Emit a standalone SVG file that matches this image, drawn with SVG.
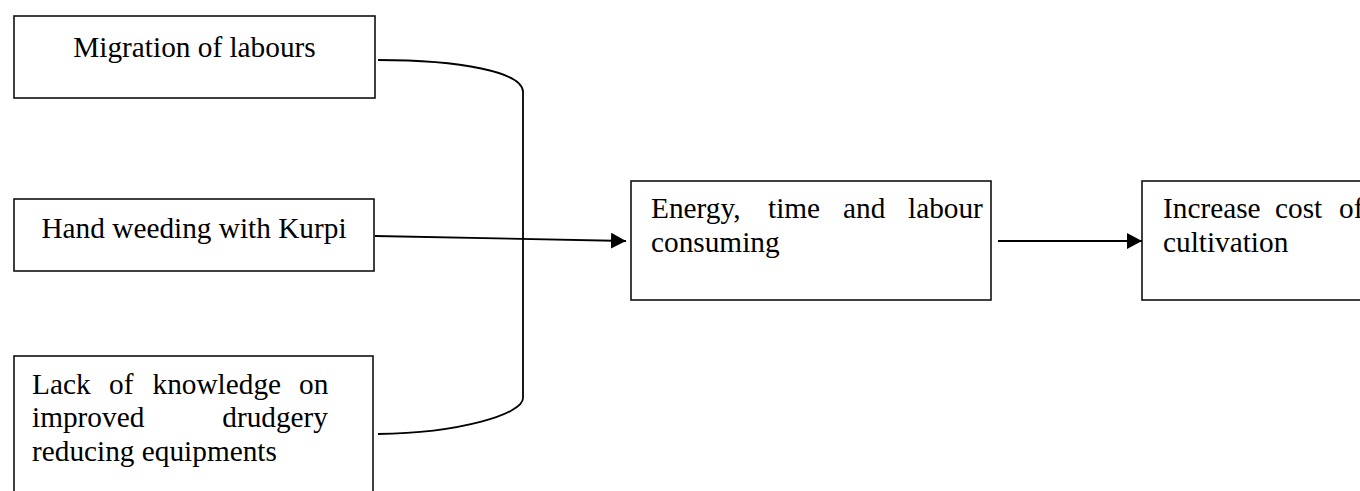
<svg xmlns="http://www.w3.org/2000/svg" width="1360" height="491" viewBox="0 0 1360 491">
  <style>
    .box { fill: #ffffff; stroke: #111111; stroke-width: 1.6; }
    .t { font-family: "Liberation Serif", "Times New Roman", serif; font-size: 29.3px; fill: #000000; }
    .c { text-anchor: middle; }
    .e { text-anchor: end; }
    .line { fill: none; stroke: #000000; stroke-width: 1.8; }
  </style>
  <defs>
    <marker id="arrow" markerUnits="userSpaceOnUse" markerWidth="16" markerHeight="16" refX="15" refY="8" orient="auto">
      <path d="M0,0 L15,8 L0,16 Z" fill="#000000"/>
    </marker>
  </defs>
  <rect width="1360" height="491" fill="#ffffff"/>

  <g id="node-migration">
    <rect class="box" x="14" y="16" width="361" height="82"/>
    <text class="t c" x="194.5" y="57">Migration of labours</text>
  </g>

  <g id="node-hand-weeding">
    <rect class="box" x="14" y="199" width="360" height="72"/>
    <text class="t c" x="194" y="238">Hand weeding with Kurpi</text>
  </g>

  <g id="node-lack-knowledge">
    <rect class="box" x="14" y="356" width="359" height="160"/>
    <text class="t" y="393.5"><tspan x="32">Lack</tspan><tspan x="109">of</tspan><tspan x="152.5">knowledge</tspan><tspan x="299">on</tspan></text>
    <text class="t" x="32" y="427">improved</text>
    <text class="t e" x="328" y="427">drudgery</text>
    <text class="t" x="32" y="460.5">reducing equipments</text>
  </g>

  <g id="node-energy">
    <rect class="box" x="631" y="181" width="360" height="119"/>
    <text class="t" y="218"><tspan x="651">Energy,</tspan><tspan x="768">time</tspan><tspan x="843">and</tspan><tspan x="908">labour</tspan></text>
    <text class="t" x="651" y="251.5">consuming</text>
  </g>

  <g id="node-increase-cost">
    <rect class="box" x="1142" y="181" width="300" height="119"/>
    <text class="t" y="218"><tspan x="1163">Increase</tspan><tspan x="1275">cost</tspan><tspan x="1339">of</tspan></text>
    <text class="t" x="1163" y="251.5">cultivation</text>
  </g>

  <g id="connectors">
    <path class="line" d="M378,60 C460,60 523,72 523,92 L523,398 C523,414 460,433 378,434"/>
    <line class="line" x1="375" y1="236" x2="626" y2="241" marker-end="url(#arrow)"/>
    <line class="line" x1="998" y1="241" x2="1142" y2="241" marker-end="url(#arrow)"/>
  </g>
</svg>
